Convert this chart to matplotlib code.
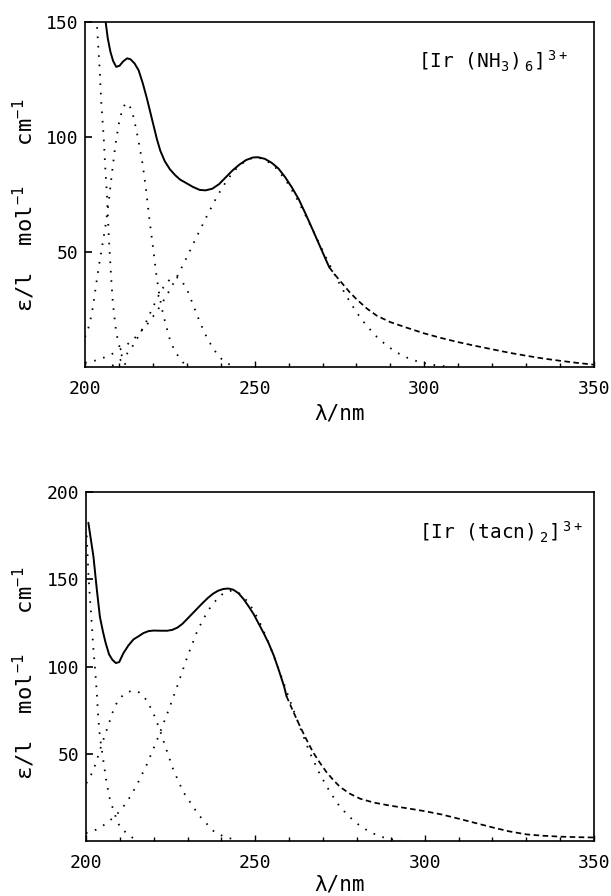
import matplotlib
matplotlib.use("Agg")
import matplotlib.pyplot as plt
from matplotlib.ticker import MultipleLocator, FixedLocator

# ---------------- data: top panel [Ir(NH3)6]3+ ----------------
top_solid_x = [205.6, 206.0, 206.7, 207.5, 208.3, 209.2, 210.2, 211.2, 212.4, 213.4, 214.6, 215.8,
               217.0, 218.2, 219.2, 220.2, 221.2, 222.2, 223.5, 225.0, 226.5, 228.0, 229.8, 231.8,
               233.8, 235.5, 237.5, 239.5, 241.5, 243.5, 245.5, 247.5, 249.5, 251.0, 253.0, 255.0,
               257.0, 259.0, 261.0, 263.0, 265.0, 267.0, 269.0, 271.0, 272.0]
top_solid_y = [158, 151, 143, 137, 133, 130.5, 131, 132.8, 134.2, 133.8, 132, 129,
               123.5, 117, 111, 105, 99, 94, 89.5, 86, 83.5, 81.5, 80, 78.3,
               77, 76.8, 77.5, 79.5, 82.5, 85.5, 88, 90, 91.1, 91.2, 90.5, 88.8,
               86.3, 82.5, 78, 72.9, 66.6, 60, 53.3, 46.6, 43.3]
top_dash_x = [272, 274, 276, 278, 280, 283, 286, 290, 295, 300, 305, 310, 315, 320, 325, 330,
              335, 340, 345, 350]
top_dash_y = [43.3, 39.5, 36, 32.5, 29.5, 25.5, 22.3, 19.5, 17, 14.6, 12.6, 10.8, 9.2, 7.7, 6.2,
              4.9, 3.7, 2.7, 1.8, 1.0]
top_b0_x = [203.0, 203.5, 204.3, 204.8, 205.5, 206.0, 206.5, 207.0, 207.7, 208.2, 209.2, 210.2,
            211.2, 212.2]
top_b0_y = [165, 149, 130, 115, 100, 86, 74, 57, 39, 28, 15, 8.5, 3, 0.3]
top_b1_x = [200, 201, 202, 203, 204, 205, 206, 207, 208, 209, 210, 211, 212, 213, 214, 215, 216,
            217, 218, 219, 220, 221, 222, 223, 224, 225, 226, 227, 228, 229, 230]
top_b1_y = [13, 17, 23, 33, 43, 52, 61, 72, 85, 97, 106, 112, 114.8, 114, 110.5, 104, 96.5,
            88, 77, 64, 52.5, 40.5, 30.5, 23, 17.5, 12, 8.5, 5.8, 3.5, 1.8, 0.5]
top_b2_x = [208, 210, 212, 214, 216, 218, 220, 222, 224, 226, 227, 228, 230, 232, 234, 236, 238,
            240, 242, 244]
top_b2_y = [0.5, 2.5, 5, 9, 14, 19.5, 26, 32, 36.8, 39, 39, 38.5, 34, 26.5, 19, 12.5, 7.5, 3.8,
            1.5, 0.3]
top_b3_x = [200, 203, 206, 209, 212, 215, 218, 221, 224, 227, 230, 233, 236, 239, 242, 245, 248,
            250.5, 253, 256, 259, 262, 265, 268, 271, 274, 277, 280, 283, 286, 289, 292, 295,
            298, 301, 304, 307]
top_b3_y = [1.8, 2.8, 4.3, 6.4, 9.2, 13.1, 17.9, 23.8, 30.9, 38.9, 47.7, 56.9, 65.9, 74.4, 81.6,
            87, 90.3, 91.2, 90.3, 87, 81.6, 74.4, 65.9, 56.9, 47.7, 38.9, 30.9, 23.8, 17.9, 13.1,
            9.2, 6.2, 4.0, 2.4, 1.3, 0.6, 0.2]

# ---------------- data: bottom panel [Ir(tacn)2]3+ ----------------
bot_solid_x = [200.7, 201.5, 202.2, 203.2, 204.1, 205.0, 205.8, 206.8, 207.8, 208.8, 209.8,
               211.0, 212.5, 214.0, 215.5, 217.0, 218.5, 220.0, 222.0, 224.0, 225.5, 227.0,
               228.5, 230.0, 231.5, 233.0, 234.5, 236.0, 237.5, 239.0, 240.5, 242.0, 243.5,
               245.0, 246.5, 248.0, 249.5, 251.0, 252.5, 254.0, 255.5, 257.0, 258.5, 259.2]
bot_solid_y = [182.4, 172, 163, 144, 128.5, 120, 113.5, 107, 103.8, 102, 102.5,
               107.5, 112, 115.5, 117.3, 119.2, 120.3, 120.6, 120.5, 120.5, 121, 122.3,
               124.5, 127.5, 130.5, 133.5, 136.5, 139.3, 141.7, 143.4, 144.4, 144.7, 144,
               142, 138.7, 134.5, 130, 124.5, 119, 113, 106, 97.5, 88.5, 83]
bot_dash_x = [259.2, 261, 263, 265, 267, 269, 271, 273, 275, 278, 281, 285, 290, 295, 300, 305,
              310, 315, 320, 325, 330, 335, 340, 345, 350]
bot_dash_y = [83, 75, 66.5, 58.5, 51, 45, 39.5, 35, 31, 27, 24.2, 22, 20.2, 18.7, 17.1, 15.2,
              12.8, 10.3, 7.8, 5.5, 3.8, 3.0, 2.5, 2.2, 2.0]
bot_b0_x = [200.2, 200.4, 200.7, 201.2, 201.7, 202.2, 202.7, 203.2, 203.6, 204.1, 205.1, 206.1,
            207.1, 208.1, 209.1, 210.0, 212.0, 214.0, 216.0]
bot_b0_y = [175, 166.7, 153.4, 138, 124.7, 109.4, 98, 84.6, 71.2, 59.8, 46.4, 33.1, 23.5, 17.8,
            12, 8.2, 4.4, 1.5, 0.3]
bot_b1_x = [200.1, 201.2, 202.2, 203.2, 204.1, 205.1, 206.1, 207.1, 208.1, 209.5, 211.5, 213.5,
            215.4, 217.9, 219.9, 221.8, 223.8, 225.8, 228.7, 233.3, 237.9, 241.3, 245.0]
bot_b1_y = [33.1, 36.8, 40.7, 46.4, 52.1, 57.9, 63.6, 69.3, 75.1, 80.8, 84.6, 86.1, 85.6, 80.8,
            73.2, 63.6, 52.1, 40.7, 28.2, 14.8, 5.2, 2.0, 0.5]
bot_b2_x = [200, 203, 206, 209, 212, 215, 218, 221, 224, 227, 230, 233, 236, 239, 241, 243, 245,
            248, 251, 254, 257, 260, 263, 266, 269, 272, 275, 278, 281, 284, 287, 290, 293]
bot_b2_y = [4.5, 6.5, 10, 15, 22, 32, 44, 58, 73, 89, 106, 121, 132, 139.5, 142.5, 143.5, 142.4,
            136.8, 126.6, 113.3, 97.9, 81.6, 66, 51, 38.5, 28.2, 19.5, 13.5, 8.5, 5, 2.5, 1.0, 0.2]

xticks_major = [200, 250, 300, 350]
top_yticks = [50, 100, 150]
bot_yticks = [50, 100, 150, 200]
top_title = r"[Ir (NH$_3$)$\,_6$]$^{\,3+}$"
bot_title = r"[Ir (tacn)$\,_2$]$^{\,3+}$"
xlabel = "λ/nm"
ylabel = r"ε/l  mol$^{-1}$   cm$^{-1}$"

plt.rcParams['font.family'] = ['DejaVu Sans Mono']
plt.rcParams['mathtext.default'] = 'regular'
plt.rcParams['mathtext.fontset'] = 'custom'
plt.rcParams['mathtext.rm'] = 'DejaVu Sans Mono'

fig = plt.figure(figsize=(6.11, 8.96), dpi=100)
W, H = 611, 896
ax1 = fig.add_axes([85 / W, 1 - 367 / H, 509 / W, 345 / H])
ax2 = fig.add_axes([86 / W, 1 - 841 / H, 508 / W, 349 / H])

solid_kw = dict(color='black', lw=1.4, solid_capstyle='round')
dash_kw = dict(color='black', lw=1.25, linestyle=(0, (3.2, 2.0)))
dot_kw = dict(color='black', lw=1.3, linestyle=(0, (0.9, 4.3)))

def style(ax, ymax, yticks, title, tx, ty, ylab_y, ylab_x, xpad):
    ax.set_xlim(200, 350)
    ax.set_ylim(0, ymax)
    ax.xaxis.set_major_locator(FixedLocator(xticks_major))
    ax.xaxis.set_minor_locator(MultipleLocator(10))
    ax.yaxis.set_major_locator(FixedLocator(yticks))
    ax.tick_params(axis='x', which='major', direction='in', length=4.5, width=1.0,
                   labelsize=13, pad=9, top=False)
    ax.tick_params(axis='x', which='minor', direction='in', length=3.0, width=1.0, top=False)
    ax.tick_params(axis='y', which='major', direction='in', length=5, width=1.2,
                   labelsize=13, pad=5, right=False)
    for s in ax.spines.values():
        s.set_linewidth(1.2)
    ax.set_xlabel(xlabel, fontsize=15, labelpad=xpad)
    ax.set_ylabel(ylabel, fontsize=16)
    ax.yaxis.set_label_coords(ylab_x, ylab_y)
    ax.text(tx, ty, title, transform=ax.transAxes, fontsize=14, ha='left', va='center')

ax1.plot(top_b0_x, top_b0_y, **dot_kw)
ax1.plot(top_b1_x, top_b1_y, **dot_kw)
ax1.plot(top_b2_x, top_b2_y, **dot_kw)
ax1.plot(top_b3_x, top_b3_y, **dot_kw)
ax1.plot(top_solid_x, top_solid_y, **solid_kw)
ax1.plot(top_dash_x, top_dash_y, **dash_kw)
style(ax1, 150, top_yticks, top_title, 0.655, 0.885, 0.47, -0.094, 4)

ax2.plot(bot_b0_x, bot_b0_y, **dot_kw)
ax2.plot(bot_b1_x, bot_b1_y, **dot_kw)
ax2.plot(bot_b2_x, bot_b2_y, **dot_kw)
ax2.plot(bot_solid_x, bot_solid_y, **solid_kw)
ax2.plot(bot_dash_x, bot_dash_y, **dash_kw)
style(ax2, 200, bot_yticks, bot_title, 0.655, 0.883, 0.48, -0.096, 2.5)

fig.savefig("out.png", dpi=100)
